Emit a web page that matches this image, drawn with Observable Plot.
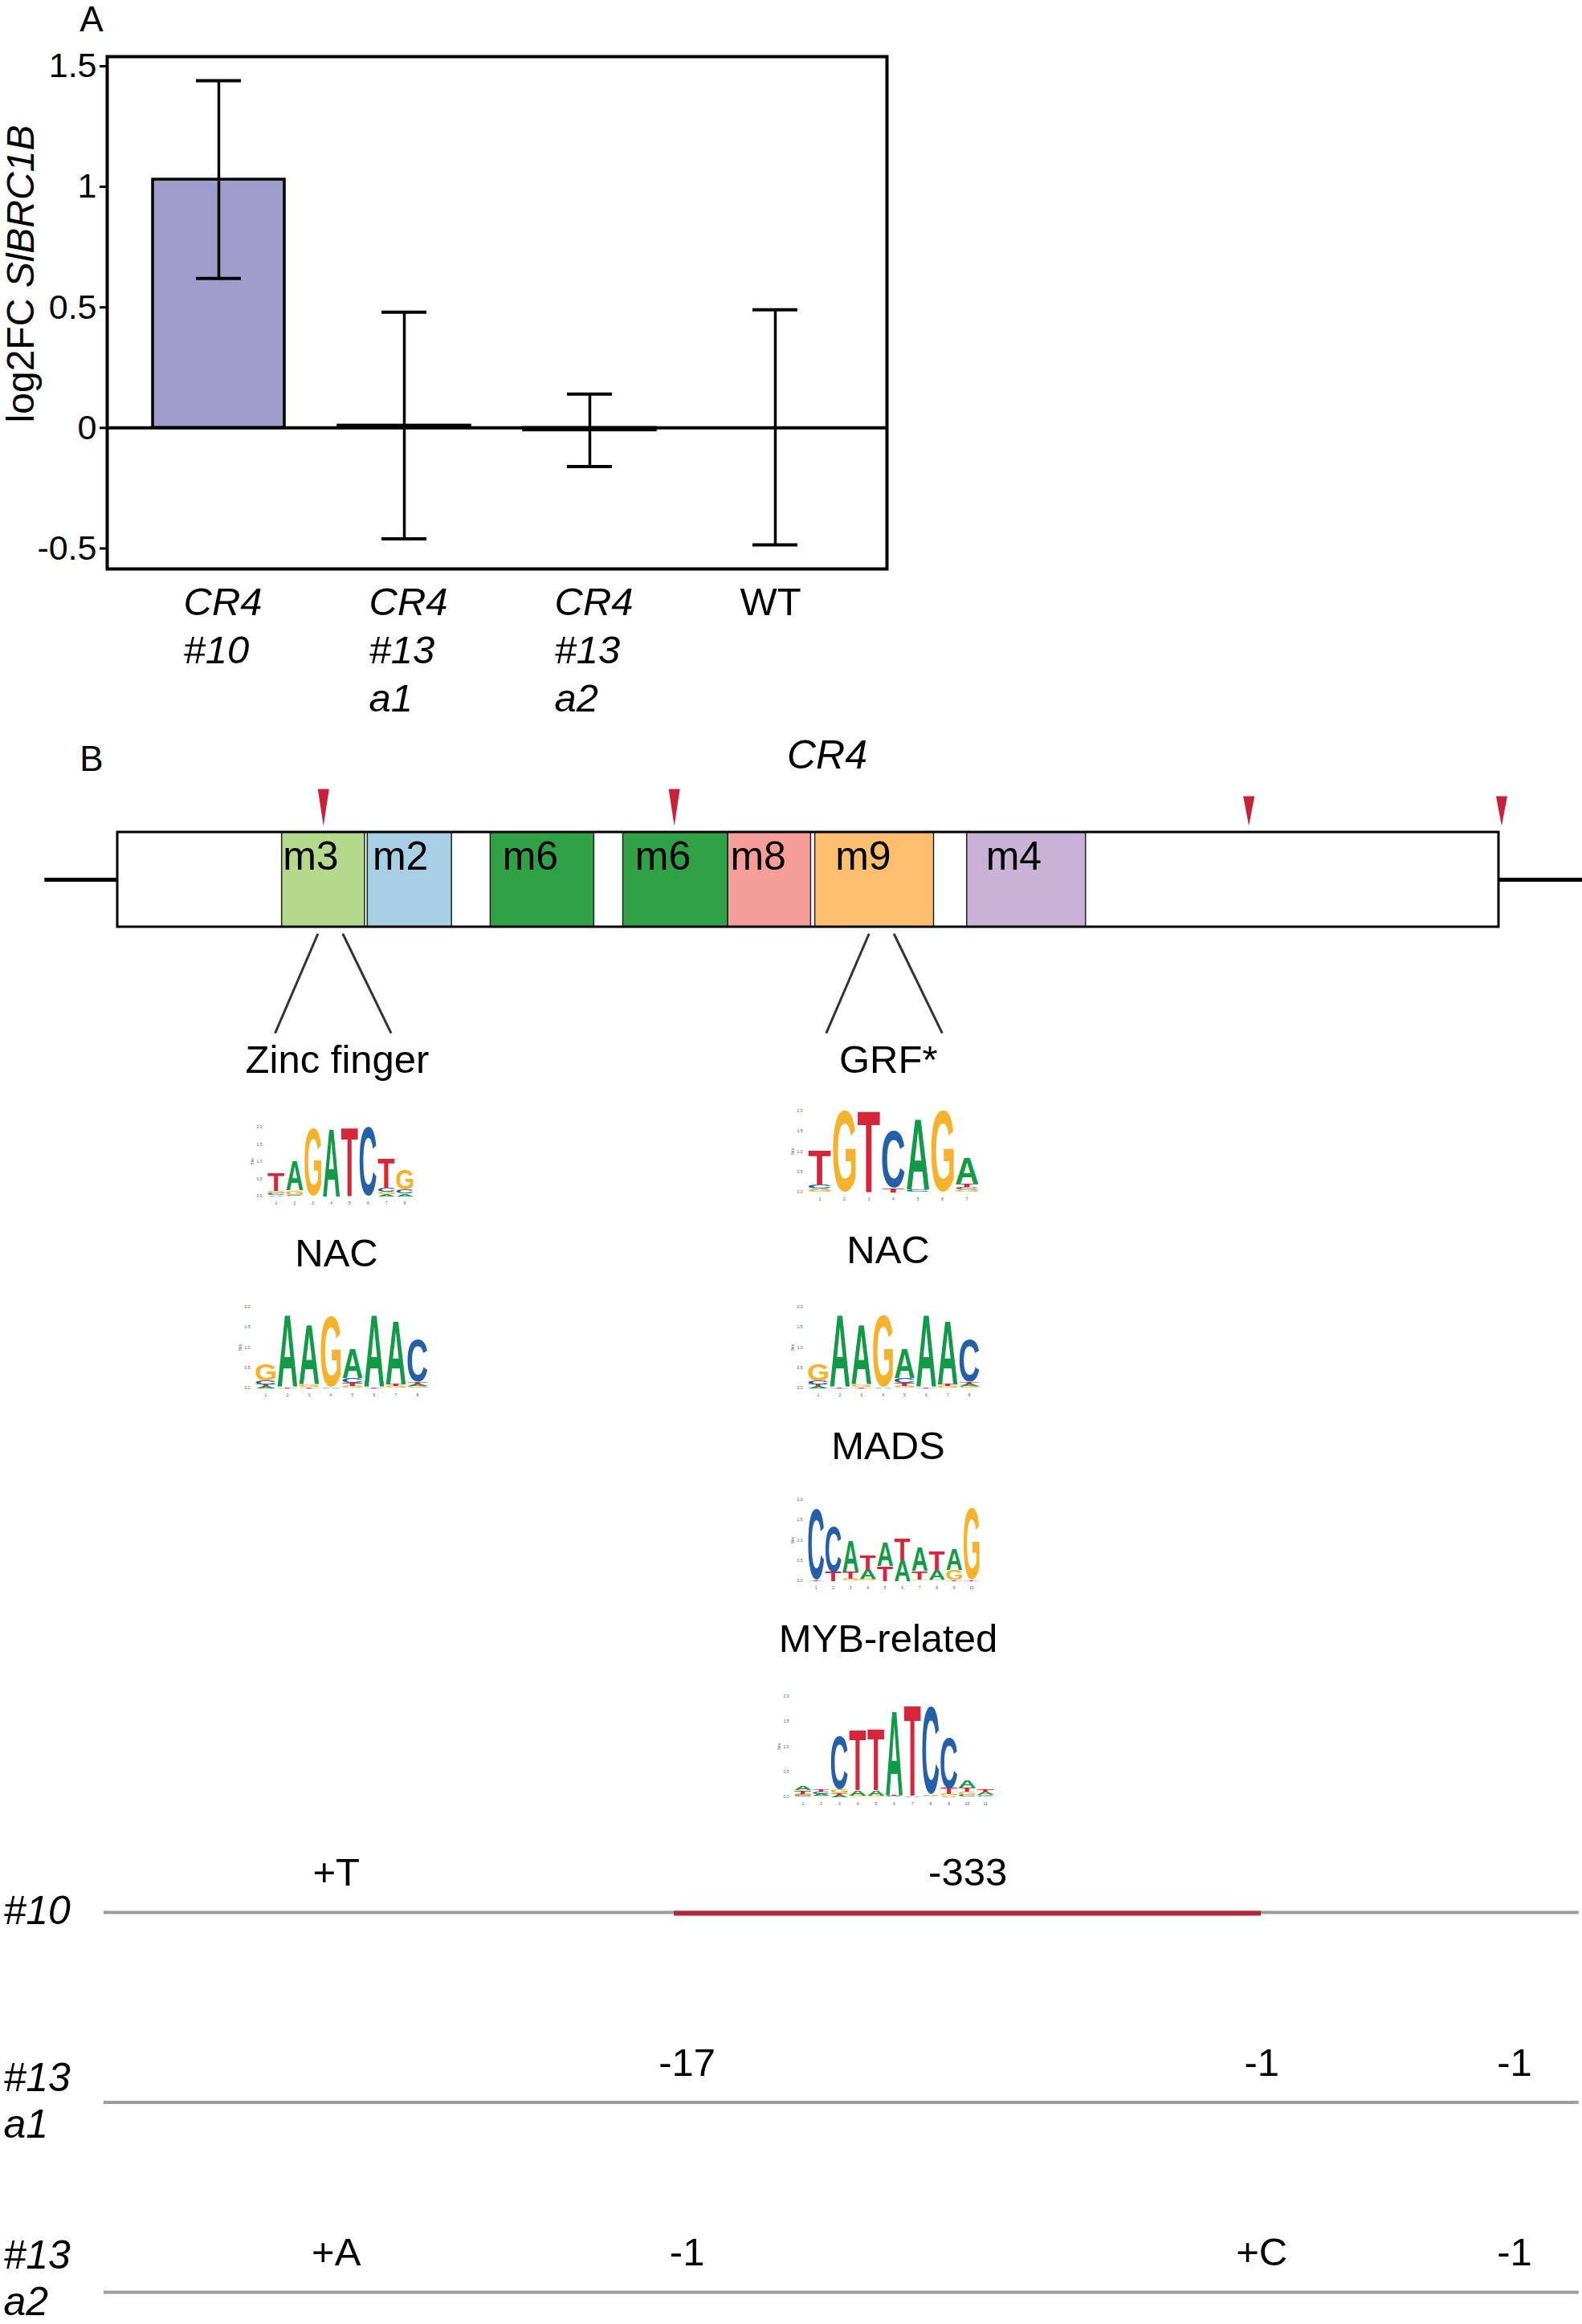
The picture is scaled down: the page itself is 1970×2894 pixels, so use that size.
<!DOCTYPE html>
<html><head><meta charset="utf-8">
<script src="https://cdn.jsdelivr.net/npm/d3@7"></script>
<script src="https://cdn.jsdelivr.net/npm/@observablehq/plot@0.6"></script>
<style>
body{margin:0;background:#fff;}
#page{position:relative;width:1970px;height:2894px;background:#fff;font-family:"Liberation Sans",Arial,sans-serif;color:#000;overflow:hidden;}
.abs{position:absolute;}
.lbl{position:absolute;transform:translate(-50%,-50%);white-space:nowrap;font-size:49px;line-height:1;}
</style></head><body><div id="page"></div>
<script>
// ---------------- Panel A data ----------------
const samples = ["CR4\n#10", "CR4\n#13\na1", "CR4\n#13\na2", "WT"];
const meanLog2FC = [1.03, 0.01, -0.01, 0];
const errLow = [0.62, -0.46, -0.16, -0.485];
const errHigh = [1.44, 0.48, 0.14, 0.49];
const yTicks = [-0.5, 0, 0.5, 1, 1.5];

// ---------------- Panel B: promoter diagram (position in % of CR4) ----------------
const motifNames = ["m3", "m2", "m6", "m6", "m8", "m9", "m4"];
const motifStart = [11.9, 18.1, 27.0, 36.6, 44.2, 50.5, 61.5];
const motifEnd = [17.9, 24.2, 34.5, 44.2, 50.2, 59.1, 70.1];
const motifLabelPos = [11.9, 18.4, 27.8, 37.4, 44.3, 51.9, 62.8];
const motifColors = {m3: "#b5d98c", m2: "#a8cfe4", m6: "#31a147", m8: "#f49d99", m9: "#fdbf6f", m4: "#cab2d6"};
const cutSites = [14.9, 40.3, 81.9, 100.2];
const cutLarge = [true, true, false, false];
const promoterStart = 0, promoterEnd = 100;
const flankStart = -5.3, flankEnd = 106.05;
const boundMotifIndex = [0, 5];
const boundLabels = ["Zinc finger", "GRF*"];

// ---------------- Panel B: sequence logos (bottom -> top, [letter, bits]) ----------------
const logoZincFinger = [
  [["A",0.04],["C",0.05],["G",0.05],["T",0.5]],
  [["C",0.04],["G",0.13],["A",0.85]],
  [["G",1.96]],
  [["A",1.96]],
  [["T",2.0]],
  [["C",1.98]],
  [["A",0.05],["G",0.07],["C",0.12],["T",0.84]],
  [["A",0.07],["C",0.12],["G",0.58]]
];
const logoNAC = [
  [["A",0.04],["T",0.04],["C",0.1],["G",0.42]],
  [["T",0.02],["A",1.78]],
  [["T",0.03],["G",0.05],["A",1.47]],
  [["A",0.02],["G",1.76]],
  [["G",0.05],["T",0.08],["C",0.12],["A",0.72]],
  [["T",0.03],["A",1.77]],
  [["G",0.04],["T",0.04],["A",1.56]],
  [["G",0.04],["A",0.05],["T",0.06],["C",1.05]]
];
const logoGRF = [
  [["G",0.05],["A",0.03],["C",0.1],["T",0.85]],
  [["G",2.0]],
  [["T",2.0]],
  [["T",0.1],["C",1.42]],
  [["C",0.06],["A",1.74]],
  [["G",2.0]],
  [["G",0.06],["C",0.06],["T",0.08],["A",0.65]]
];
const logoMADS = [
  [["T",0.03],["C",1.76]],
  [["T",0.22],["C",1.13]],
  [["G",0.05],["T",0.17],["A",0.77]],
  [["G",0.04],["A",0.22],["T",0.36]],
  [["T",0.36],["A",0.59]],
  [["A",0.5],["T",0.55]],
  [["G",0.03],["T",0.21],["A",0.58]],
  [["G",0.03],["A",0.23],["T",0.46]],
  [["T",0.03],["G",0.24],["A",0.52]],
  [["T",0.03],["G",1.76]]
];
const logoMYB = [
  [["C",0.03],["G",0.03],["T",0.07],["A",0.09]],
  [["G",0.02],["A",0.03],["C",0.05],["T",0.04]],
  [["A",0.03],["T",0.04],["G",0.08],["C",1.05]],
  [["G",0.03],["A",0.1],["T",1.21]],
  [["G",0.03],["A",0.1],["T",1.23]],
  [["C",0.02],["T",0.02],["A",1.68]],
  [["A",0.02],["T",1.8]],
  [["G",0.02],["A",0.02],["C",1.75]],
  [["A",0.02],["G",0.03],["T",0.12],["C",1.01]],
  [["C",0.04],["G",0.06],["T",0.08],["A",0.14]],
  [["C",0.02],["G",0.02],["A",0.05],["T",0.05]]
];
const letterColors = {A: "#129a48", C: "#2560a6", G: "#f6b22c", T: "#d6263b"};

// ---------------- Panel B: mutated lines ----------------
const lineNames = ["#10", "#13\na1", "#13\na2"];
const trackStart = -1.0, trackEnd = 105.8;
const mutLine = [0, 1, 1, 1, 2, 2, 2, 2];
const mutSite = [0, 1, 2, 3, 0, 1, 2, 3];
const mutText = ["+T", "-17", "-1", "-1", "+A", "-1", "+C", "-1"];
const delLine = [0];
const delFrom = [40.3];
const delTo = [82.8];
const delText = ["-333"];

// =====================================================================
const FONT = '"Liberation Sans", Arial, sans-serif';
const page = document.getElementById("page");
function place(node, left, top, width) {
  const d = document.createElement("div");
  d.className = "abs";
  d.style.left = left + "px"; d.style.top = top + "px";
  if (width) d.style.width = width + "px";
  d.appendChild(node);
  page.appendChild(d);
  return d;
}
function label(html, cx, cy, extra) {
  const d = document.createElement("div");
  d.className = "lbl";
  d.style.left = cx + "px"; d.style.top = cy + "px";
  if (extra) Object.assign(d.style, extra);
  d.innerHTML = html;
  page.appendChild(d);
  return d;
}

// ---------------- Panel A ----------------
const dataA = samples.map((s, i) => ({sample: s, mean: meanLog2FC[i], lo: errLow[i], hi: errHigh[i]}));
const xLabelOpts = {x: "sample", text: "sample", frameAnchor: "bottom", lineAnchor: "top", dy: 15, dx: -44, textAnchor: "start", fontSize: 49, lineHeight: 1.22};
const plotA = Plot.plot({
  width: 1120, height: 960,
  marginLeft: 133, marginRight: 16, marginTop: 70, marginBottom: 252,
  style: {fontFamily: FONT, fontSize: "43px", color: "black", background: "transparent"},
  x: {domain: samples, paddingInner: 0.29, paddingOuter: 0.24, axis: null},
  y: {domain: [-0.585, 1.54], axis: null},
  marks: [
    Plot.barY(dataA, {x: "sample", y: "mean", fill: "#a09ccb", stroke: "black", strokeWidth: 3.5}),
    Plot.ruleY([0], {stroke: "black", strokeWidth: 4}),
    Plot.ruleX(dataA, {x: "sample", y1: "lo", y2: "hi", stroke: "black", strokeWidth: 3.5}),
    Plot.tickY(dataA, {x: "sample", y: "lo", stroke: "black", strokeWidth: 4, insetLeft: 54, insetRight: 54}),
    Plot.tickY(dataA, {x: "sample", y: "hi", stroke: "black", strokeWidth: 4, insetLeft: 54, insetRight: 54}),
    Plot.axisY({ticks: yTicks, tickFormat: d => String(d), tickSize: 9, tickPadding: 4, strokeWidth: 3, fontSize: 43, label: null}),
    Plot.text(dataA.filter(d => d.sample !== "WT"), {...xLabelOpts, fontStyle: "italic"}),
    Plot.text(dataA.filter(d => d.sample === "WT"), xLabelOpts),
    Plot.frame({stroke: "black", strokeWidth: 4})
  ]
});
place(plotA, 0, 0, 1120);
label("A", 114, 24, {fontSize: "44px"});
label('log2FC <i>SlBRC1B</i>', 26, 341, {fontSize: "48px", transform: "translate(-50%,-50%) rotate(-90deg)"});

// ---------------- Panel B diagram ----------------
const xDomainB = [promoterStart - 8.488, promoterStart + 106.047];
const motifs = motifNames.map((m, i) => ({name: m, start: motifStart[i], end: motifEnd[i], lx: motifLabelPos[i], color: motifColors[m]}));
const cuts = cutSites.map((c, i) => ({pos: c, large: cutLarge[i]}));
const triPts = [];
cuts.forEach((c, i) => {
  const top = c.large ? 1.458 : 1.381, tip = 1.068, hw = 0.41;
  triPts.push({id: i, x: c.pos - hw, y: top}, {id: i, x: c.pos + hw, y: top}, {id: i, x: c.pos, y: tip});
});
const flanks = [{x1: flankStart, x2: promoterStart}, {x1: promoterEnd, x2: flankEnd}];
const bound = boundMotifIndex.map((mi, k) => {
  const c = (motifStart[mi] + motifEnd[mi]) / 2;
  return {label: boundLabels[k], c, lx: c + 1.0};
});
const fans = [];
bound.forEach(b => {
  fans.push({x1: b.c + 0.5 - 0.9, x2: b.c + 0.7 - 4.2});
  fans.push({x1: b.c + 0.5 + 0.9, x2: b.c + 0.7 + 4.2});
});
const plotB = Plot.plot({
  width: 1970, height: 460,
  margin: 0,
  style: {fontFamily: FONT, fontSize: "49px", color: "black", background: "transparent", overflow: "visible"},
  x: {domain: xDomainB, axis: null},
  y: {domain: [-1.746, 2.153], axis: null},
  marks: [
    Plot.link(flanks, {x1: "x1", x2: "x2", y1: () => 0.5, y2: () => 0.5, stroke: "black", strokeWidth: 5}),
    Plot.rect([{}], {x1: () => promoterStart, x2: () => promoterEnd, y1: () => 0, y2: () => 1, fill: "white"}),
    Plot.rect(motifs, {x1: "start", x2: "end", y1: () => 0, y2: () => 1, fill: "color", stroke: "#222", strokeWidth: 1.5}),
    Plot.rect([{}], {x1: () => promoterStart, x2: () => promoterEnd, y1: () => 0, y2: () => 1, fill: "none", stroke: "black", strokeWidth: 3}),
    Plot.text(motifs, {x: "lx", y: () => 1, text: "name", textAnchor: "start", lineAnchor: "top", dy: 11, dx: 1, fontSize: 50}),
    Plot.line(triPts, {x: "x", y: "y", z: "id", fill: "#c8223a", stroke: "none", curve: "linear"}),
    Plot.link(fans, {x1: "x1", x2: "x2", y1: () => -0.07, y2: () => -1.12, stroke: "#333", strokeWidth: 3}),
    Plot.text(bound, {x: "lx", y: () => -1.12, dy: 34, text: "label", fontSize: 49})
  ]
});
place(plotB, 0, 900, 1970);
label("B", 114, 945, {fontSize: "44px"});
label("<i>CR4</i>", 1030, 940, {fontSize: "50px"});

// ---------------- Sequence logos ----------------
const mctx = document.createElement("canvas").getContext("2d");
mctx.font = 'bold 100px "Liberation Sans", Arial, sans-serif';
const glyph = {};
for (const L of "ACGT") {
  const m = mctx.measureText(L);
  glyph[L] = {l: m.actualBoundingBoxLeft, r: m.actualBoundingBoxRight, a: m.actualBoundingBoxAscent, d: m.actualBoundingBoxDescent};
}
function makeLogo(columns, box) {
  const rows = [];
  columns.forEach((stack, i) => {
    let base = 0;
    stack.forEach(([letter, h]) => { rows.push({pos: i + 1, letter, y1: base, y2: base + h}); base += h; });
  });
  const n = columns.length;
  const plot = Plot.plot({
    width: box.w, height: box.h,
    marginLeft: box.ml, marginRight: box.mr, marginTop: box.mt, marginBottom: box.mb,
    style: {fontFamily: FONT, fontSize: "5px", color: "#555", background: "transparent", overflow: "visible"},
    x: {domain: [0.5, n + 0.5], axis: null},
    y: {domain: [0, 2], axis: null},
    marks: [
      Plot.axisY({ticks: [0, 0.5, 1, 1.5, 2], tickFormat: d3.format(".1f"), fontSize: 5, tickSize: 0, tickPadding: 6, label: "Bits", labelArrow: false, labelAnchor: "center", labelOffset: 20, stroke: "none"}),
      Plot.axisX({ticks: d3.range(1, n + 1), tickFormat: d => String(d), fontSize: 5, tickSize: 0, tickPadding: 7, label: null}),
      Plot.text(rows, {x: "pos", y: "y1", text: "letter", fill: d => letterColors[d.letter], fontWeight: "bold", fontSize: 100, fontFamily: FONT})
    ]
  });
  const xs = plot.scale("x"), ys = plot.scale("y");
  const fx = d3.scaleLinear(xs.domain, xs.range), fy = d3.scaleLinear(ys.domain, ys.range);
  const texts = plot.querySelectorAll('g[aria-label="text"] text');
  texts.forEach((el, k) => {
    const d = rows[k];
    if (!d) return;
    const g = glyph[d.letter];
    const X0 = fx(d.pos - 0.46), X1 = fx(d.pos + 0.46);
    const Ytop = fy(d.y2), Ybot = fy(d.y1);
    const sx = (X1 - X0) / (g.l + g.r), sy = (Ybot - Ytop) / (g.a + g.d);
    const tx = X0 + g.l * sx, ty = Ytop + g.a * sy;
    el.removeAttribute("x"); el.removeAttribute("y"); el.removeAttribute("dy");
    el.setAttribute("text-anchor", "start");
    el.setAttribute("transform", `translate(${tx},${ty}) scale(${sx},${sy})`);
  });
  place(plot, box.left, box.top, box.w);
}
makeLogo(logoZincFinger, {left: 300, top: 1395, w: 225, h: 110, ml: 32, mr: 10, mt: 8, mb: 16});
makeLogo(logoNAC, {left: 285, top: 1617, w: 260, h: 130, ml: 32, mr: 12, mt: 10, mb: 19});
makeLogo(logoGRF, {left: 973, top: 1373, w: 256, h: 130, ml: 32, mr: 10, mt: 10, mb: 19});
makeLogo(logoNAC, {left: 973, top: 1617, w: 259, h: 130, ml: 32, mr: 12, mt: 10, mb: 19});
makeLogo(logoMADS, {left: 973, top: 1857, w: 259, h: 130, ml: 32, mr: 12, mt: 10, mb: 19});
makeLogo(logoMYB, {left: 956, top: 2100, w: 294, h: 160, ml: 32, mr: 12, mt: 12, mb: 23});
label("NAC", 419, 1560);
label("NAC", 1106, 1556);
label("MADS", 1106, 1800);
label("MYB-related", 1106, 2040);

// ---------------- Mutated lines ----------------
const rowsT = lineNames.map((l, i) => ({row: i, label: l}));
const muts = mutText.map((t, i) => ({row: mutLine[i], pos: cutSites[mutSite[i]], text: t}));
const dels = delText.map((t, i) => ({row: delLine[i], from: delFrom[i], to: delTo[i], mid: (delFrom[i] + delTo[i]) / 2, text: t}));
const rowLabelOpts = {y: "row", text: "label", frameAnchor: "left", textAnchor: "start", dx: 4, fontStyle: "italic", fontSize: 50, lineHeight: 1.16};
const plotT = Plot.plot({
  width: 1970, height: 614,
  margin: 0,
  style: {fontFamily: FONT, fontSize: "49px", color: "black", background: "transparent", overflow: "visible"},
  x: {domain: xDomainB, axis: null},
  y: {domain: [2.169, -0.427], axis: null},
  marks: [
    Plot.ruleY(rowsT, {y: "row", x1: () => trackStart, x2: () => trackEnd, stroke: "#9d9d9d", strokeWidth: 4}),
    Plot.ruleY(dels, {y: "row", x1: "from", x2: "to", stroke: "#b3263a", strokeWidth: 6, dy: 1}),
    Plot.text(muts, {x: "pos", y: "row", text: "text", dy: -49, dx: 16, fontSize: 49}),
    Plot.text(dels, {x: "mid", y: "row", text: "text", dy: -49, fontSize: 49}),
    Plot.text(rowsT.filter(d => d.row < 2), {...rowLabelOpts, dy: -4}),
    Plot.text(rowsT.filter(d => d.row === 2), {...rowLabelOpts, dy: -19})
  ]
});
place(plotT, 0, 2280, 1970);
</script>
</body></html>
